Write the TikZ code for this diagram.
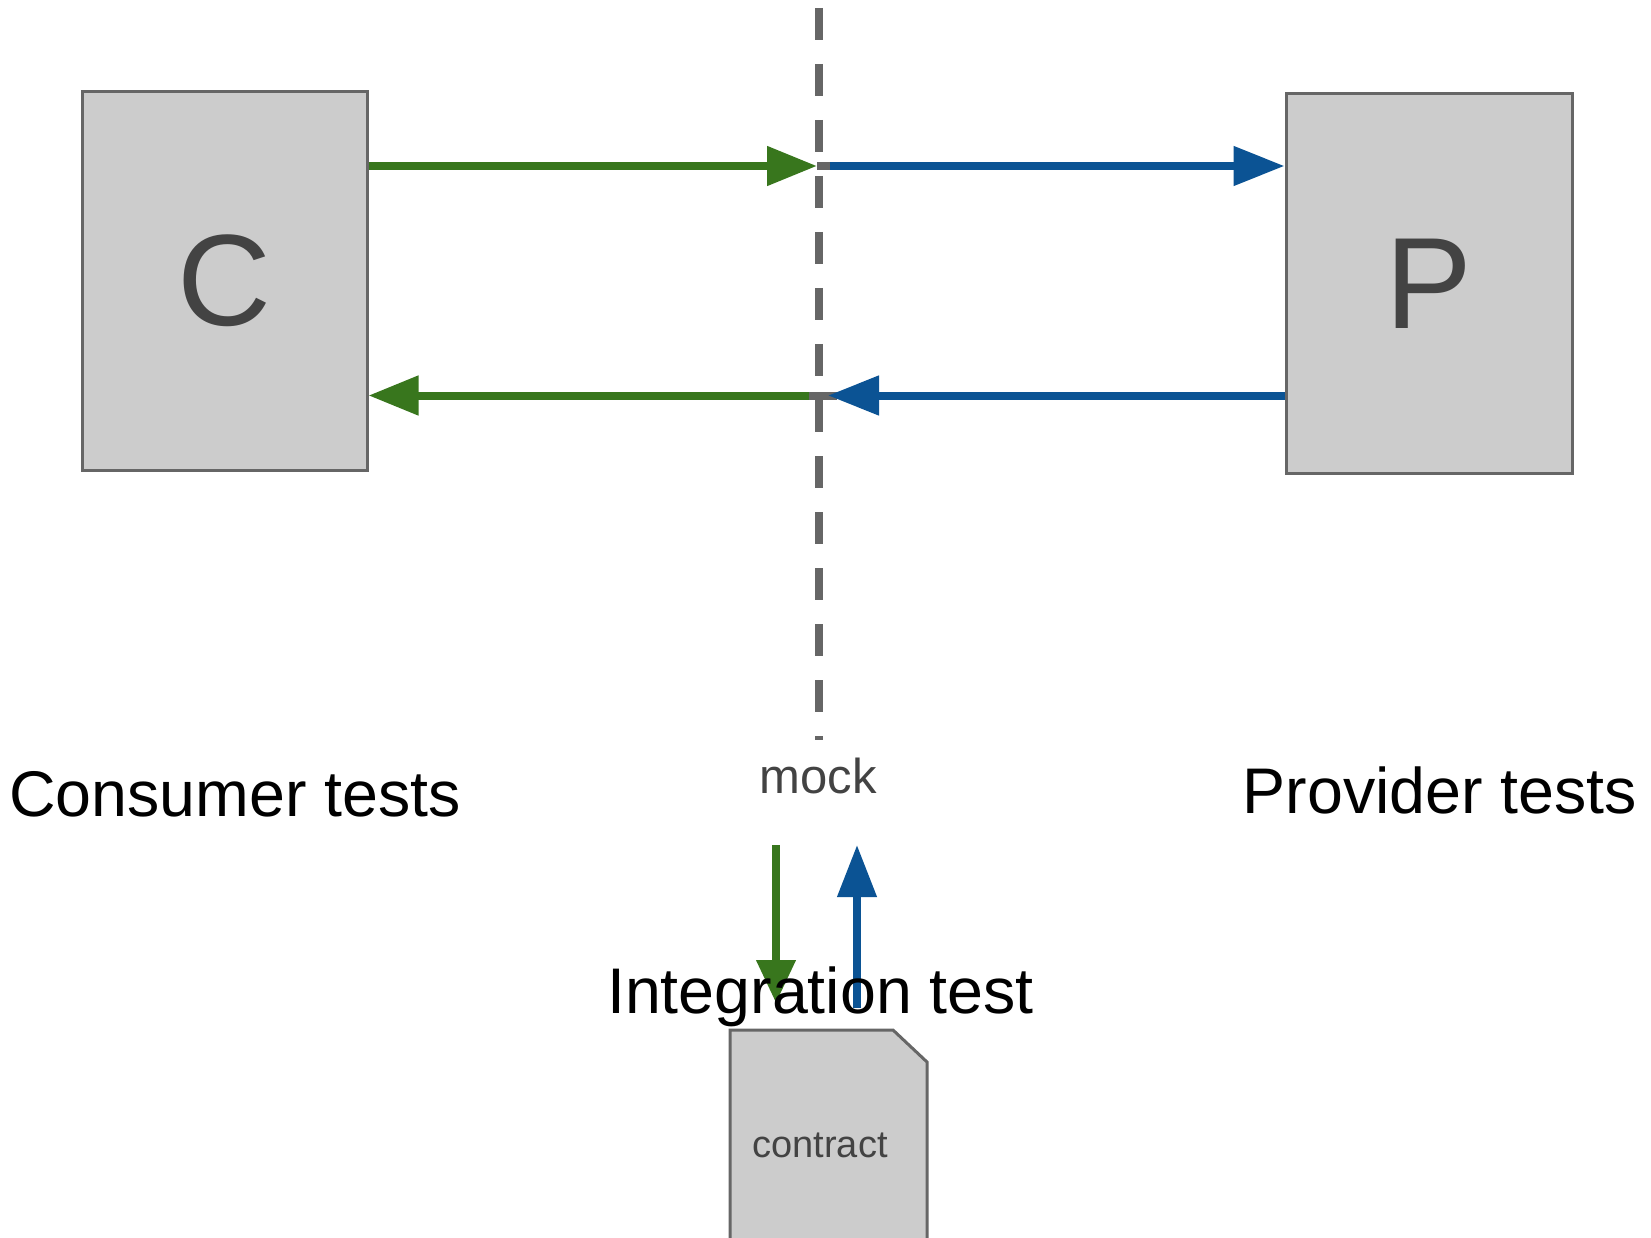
\documentclass[tikz,border=0pt]{standalone}
\usepackage{fontspec}
\setmainfont{Liberation Sans}
\usetikzlibrary{arrows.meta}
\definecolor{boxfill}{HTML}{CCCCCC}
\definecolor{boxline}{HTML}{666666}
\definecolor{darktext}{HTML}{434343}
\definecolor{arrgreen}{HTML}{38761D}
\definecolor{arrblue}{HTML}{0B5394}
\tikzset{
  bigbox/.style={draw=boxline, fill=boxfill, line width=3pt, inner sep=0pt,
    text=darktext, font=\fontsize{130}{130}\selectfont},
  label/.style={anchor=base, inner sep=0pt, font=\fontsize{64.5}{64.5}\selectfont},
  greenarr/.style={draw=arrgreen, line width=8pt, -{Triangle[length=50pt,width=38pt]}},
  bluearr/.style={draw=arrblue, line width=8pt, -{Triangle[length=51pt,width=38pt]}},
  greenv/.style={draw=arrgreen, line width=7.5pt, -{Triangle[length=43pt,width=38pt]}},
  bluev/.style={draw=arrblue, line width=7.5pt, -{Triangle[length=52pt,width=38pt]}},
  graylink/.style={draw=boxline, line width=8pt},
}
\begin{document}
\begin{tikzpicture}[x=1pt, y=-1pt]
\useasboundingbox (0,0) rectangle (1651,1238);
% mock boundary
\coordinate (dtop) at (819,8);
\coordinate (dbot) at (819,740);
\draw[boxline, line width=7.5pt, dash pattern=on 32pt off 24pt] (dtop) -- (dbot);
% boxes
\node[bigbox, minimum width=285pt, minimum height=378pt] (C) at (224.5,281) {C};
\node[bigbox, minimum width=286pt, minimum height=379pt] (P) at (1429,283.5) {P};
% crossing points on the mock line
\coordinate (m1a) at (817,166);
\coordinate (m1b) at (830,166);
\coordinate (m2a) at (809,395.5);
\coordinate (m2b) at (837,395.5);
\draw[graylink] (m1a) -- (m1b);
\draw[graylink] (m2a) -- (m2b);
% horizontal arrows
\draw[greenarr] (C.east |- m1a) -- (m1a);
\draw[bluearr] (m1b) -- (P.west |- m1b);
\draw[bluearr] (P.west |- m2b) -- ([xshift=-9pt]m2b);
\draw[greenarr] (m2a) -- (C.east |- m2a);
% labels
\node[label] (cons) at (235,816) {Consumer tests};
\node[label] (prov) at (1440,813) {Provider tests};
\node[anchor=base, inner sep=0pt, text=darktext, font=\fontsize{49}{49}\selectfont] (mock) at (818,793) {mock};
% contract
\coordinate (ctl) at (730,1030);
\draw[boxline, fill=boxfill, line width=3pt] (ctl) -- (893,1030) -- (927,1062) -- (927,1250) -- (730,1250) -- cycle;
\node[anchor=base, inner sep=0pt, text=darktext, font=\fontsize{38}{38}\selectfont] (contract) at (820,1157) {contract};
% vertical arrows
\coordinate (g1) at (776,845);
\coordinate (g2) at (776,1003);
\coordinate (b1) at (857,1008);
\coordinate (b2) at (857,845);
\draw[greenv] (g1) -- (g2);
\draw[bluev] (b1) -- (b2);
\node[label] (integ) at (820.5,1013) {Integration test};
\end{tikzpicture}
\end{document}
